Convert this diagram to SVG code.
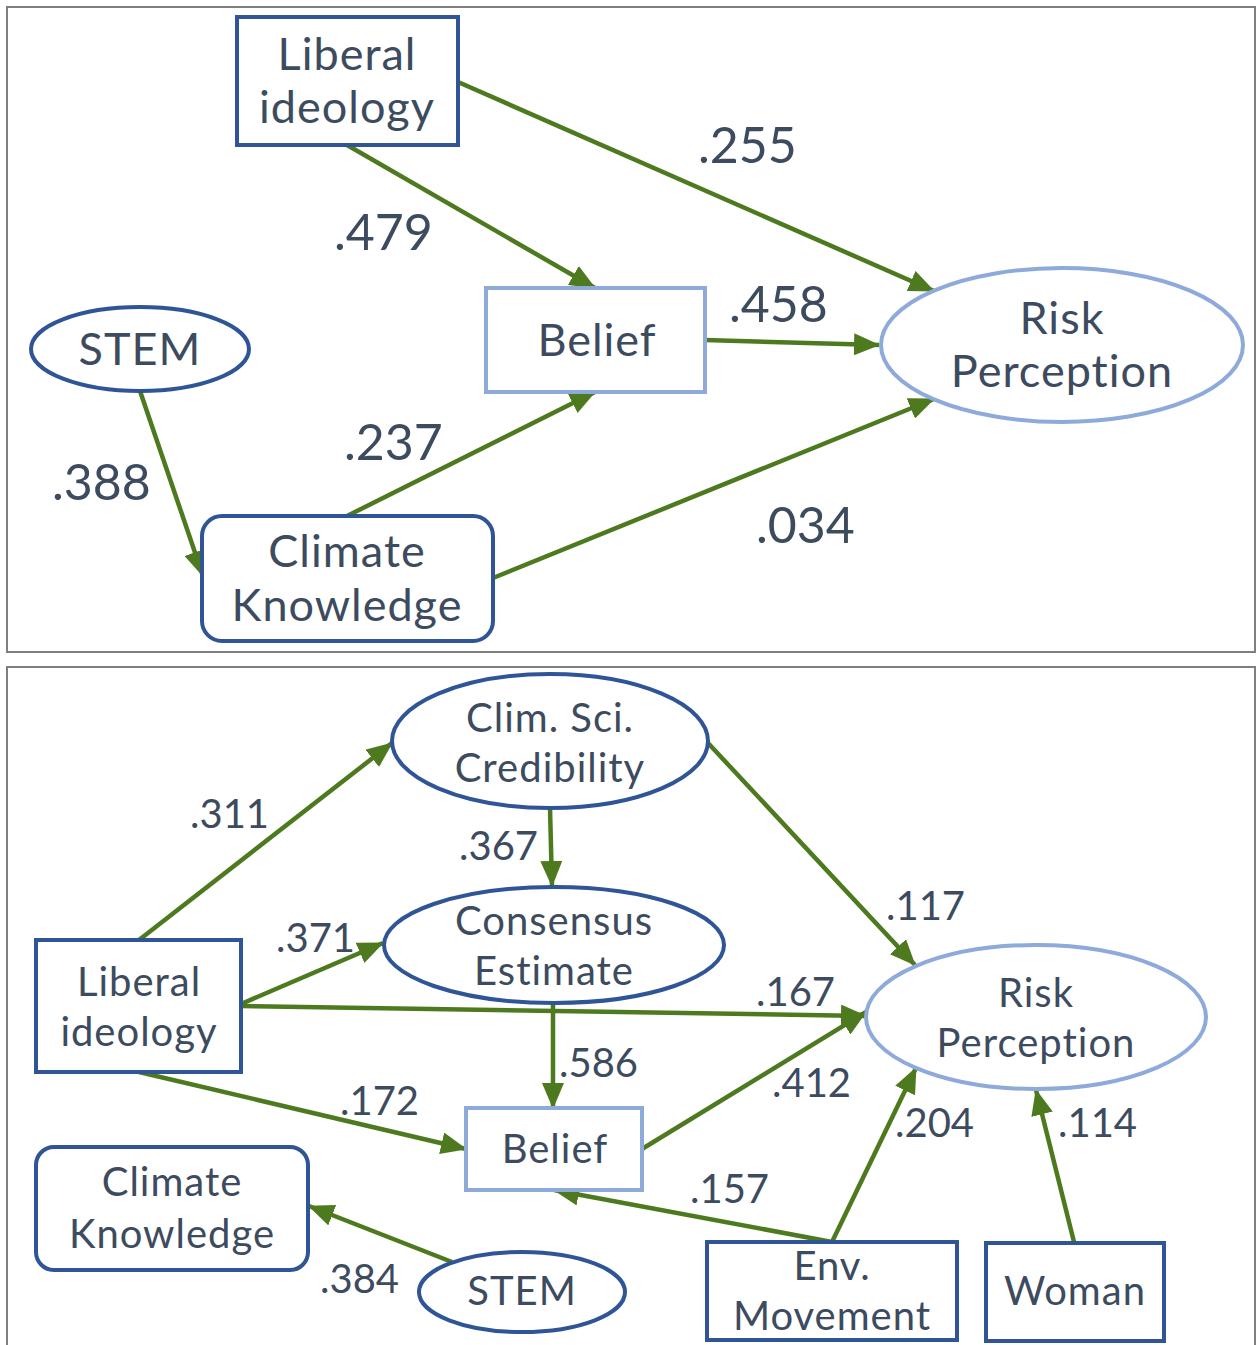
<svg xmlns="http://www.w3.org/2000/svg" width="1257" height="1345" viewBox="0 0 1257 1345">
<style>
.panel{fill:#fff;stroke:#7f7f7f;stroke-width:2}
.dk{fill:#fff;stroke:#2f5597;stroke-width:4}
.lt{fill:#fff;stroke:#8eaadb;stroke-width:4}
.t{font-family:Lato,"Noto Sans","Liberation Sans",sans-serif;font-weight:400;fill:#3d4b5f;text-anchor:middle;letter-spacing:1px}
.n1{font-size:45px}
.n2{font-size:40px}
.l1{font-family:Lato,"Noto Sans","Liberation Sans",sans-serif;font-weight:400;fill:#3d4b5f;font-size:50px}
.l2{font-family:Lato,"Noto Sans","Liberation Sans",sans-serif;font-weight:400;fill:#3d4b5f;font-size:40px}
.c{fill:none;stroke:#4e7a1f;stroke-width:4.5;marker-end:url(#ah)}
</style>
<defs>
<marker id="ah" markerUnits="userSpaceOnUse" markerWidth="26" markerHeight="22" refX="25" refY="11" orient="auto">
<path d="M0,0 L26,11 L0,22 z" fill="#4e7a1f"/>
</marker>
</defs>
<rect width="1257" height="1345" fill="#fff"/>
<rect class="panel" x="7" y="7" width="1248" height="645"/>
<rect class="panel" x="7" y="667" width="1248" height="690"/>

<g id="connectors">
<line class="c" x1="458" y1="82" x2="934" y2="291"/>
<line class="c" x1="347" y1="145" x2="595" y2="288"/>
<line class="c" x1="705" y1="340" x2="879" y2="345"/>
<line class="c" x1="140" y1="391" x2="203" y2="576"/>
<line class="c" x1="347" y1="516" x2="595" y2="392"/>
<line class="c" x1="493" y1="578" x2="934" y2="399"/>

<line class="c" x1="139" y1="940" x2="392" y2="743"/>
<line class="c" x1="241" y1="1004" x2="383" y2="943"/>
<line class="c" x1="241" y1="1006" x2="866" y2="1016"/>
<line class="c" x1="139" y1="1072" x2="466" y2="1149"/>
<line class="c" x1="550" y1="808" x2="552" y2="886"/>
<line class="c" x1="708" y1="743" x2="915" y2="965"/>
<line class="c" x1="553" y1="1004" x2="553" y2="1108"/>
<line class="c" x1="642" y1="1149" x2="866" y2="1012"/>
<line class="c" x1="832" y1="1242" x2="554" y2="1190"/>
<line class="c" x1="832" y1="1242" x2="916" y2="1068"/>
<line class="c" x1="1074" y1="1242" x2="1036" y2="1090"/>
<line class="c" x1="452" y1="1262" x2="309" y2="1206"/>
</g>

<g id="top-liberal"><rect class="dk" x="237" y="17" width="221" height="128"/><text class="t n1" x="347" y="70">Liberal</text><text class="t n1" x="347" y="123">ideology</text></g>
<g id="top-stem"><ellipse class="dk" cx="140" cy="349" rx="109" ry="42"/><text class="t n1" x="140" y="365">STEM</text></g>
<g id="top-belief"><rect class="lt" x="486" y="288" width="219" height="104"/><text class="t n1" x="597" y="356">Belief</text></g>
<g id="top-risk"><ellipse class="lt" cx="1062" cy="345" rx="181" ry="77"/><text class="t n1" x="1062" y="334">Risk</text><text class="t n1" x="1062" y="387">Perception</text></g>
<g id="top-climate"><rect class="dk" x="202" y="516" width="291" height="125" rx="20"/><text class="t n1" x="347" y="567">Climate</text><text class="t n1" x="347" y="621">Knowledge</text></g>

<g id="top-labels">
<text class="l1" x="698" y="163">.255</text>
<text class="l1" x="334" y="250">.479</text>
<text class="l1" x="729" y="322">.458</text>
<text class="l1" x="52" y="500">.388</text>
<text class="l1" x="344" y="460">.237</text>
<text class="l1" x="756" y="543">.034</text>
</g>

<g id="b-climsci"><ellipse class="dk" cx="550" cy="741" rx="158" ry="67"/><text class="t n2" x="550" y="732">Clim. Sci.</text><text class="t n2" x="550" y="782">Credibility</text></g>
<g id="b-consensus"><ellipse class="dk" cx="554" cy="945" rx="170" ry="58"/><text class="t n2" x="554" y="935">Consensus</text><text class="t n2" x="554" y="985">Estimate</text></g>
<g id="b-liberal"><rect class="dk" x="36" y="940" width="205" height="132"/><text class="t n2" x="139" y="996">Liberal</text><text class="t n2" x="139" y="1046">ideology</text></g>
<g id="b-risk"><ellipse class="lt" cx="1036" cy="1017" rx="170" ry="72"/><text class="t n2" x="1036" y="1007">Risk</text><text class="t n2" x="1036" y="1057">Perception</text></g>
<g id="b-belief"><rect class="lt" x="466" y="1108" width="176" height="82"/><text class="t n2" x="555" y="1163">Belief</text></g>
<g id="b-climate"><rect class="dk" x="36" y="1147" width="272" height="123" rx="18"/><text class="t n2" x="172" y="1196">Climate</text><text class="t n2" x="172" y="1248">Knowledge</text></g>
<g id="b-stem"><ellipse class="dk" cx="522" cy="1292" rx="103" ry="40"/><text class="t n2" x="522" y="1305">STEM</text></g>
<g id="b-env"><rect class="dk" x="707" y="1242" width="250" height="98"/><text class="t n2" x="832" y="1280">Env.</text><text class="t n2" x="832" y="1330">Movement</text></g>
<g id="b-woman"><rect class="dk" x="986" y="1243" width="178" height="98"/><text class="t n2" x="1075" y="1305">Woman</text></g>

<g id="bottom-labels">
<text class="l2" x="190" y="828">.311</text>
<text class="l2" x="459" y="860">.367</text>
<text class="l2" x="276" y="952">.371</text>
<text class="l2" x="886" y="920">.117</text>
<text class="l2" x="756" y="1006">.167</text>
<text class="l2" x="559" y="1077">.586</text>
<text class="l2" x="772" y="1097">.412</text>
<text class="l2" x="340" y="1115">.172</text>
<text class="l2" x="895" y="1137">.204</text>
<text class="l2" x="1058" y="1137">.114</text>
<text class="l2" x="690" y="1203">.157</text>
<text class="l2" x="320" y="1293">.384</text>
</g>
</svg>
